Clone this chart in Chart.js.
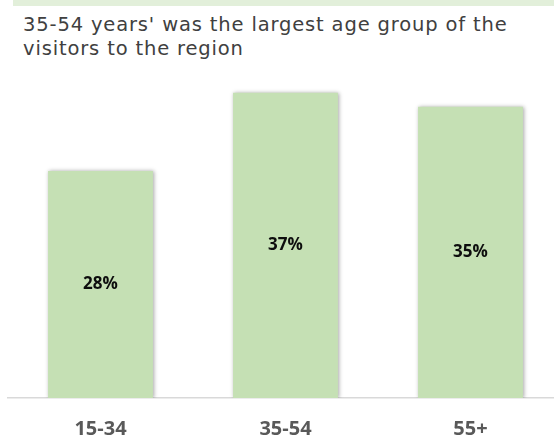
<!DOCTYPE html>
<html>
<head>
<meta charset="utf-8">
<script src="https://cdn.jsdelivr.net/npm/chart.js@4"></script>
<style>
  html, body { margin:0; padding:0; width:554px; height:438px; overflow:hidden; background:#fff; }
  #band { position:absolute; left:13px; top:0; width:541px; height:6px; background:#e2efda; }
  #title { position:absolute; left:23px; top:13px; width:531px; white-space:nowrap; font-family:"DejaVu Sans", sans-serif; font-size:19.5px; letter-spacing:0.85px; line-height:24px; color:#404040; }
  #wrap { position:absolute; left:0; top:0; width:580px; height:470px; }
</style>
</head>
<body>
<div id="band"></div>
<div id="title">35-54 years' was the largest age group of the<br>visitors to the region</div>
<div id="wrap"><canvas id="c" width="580" height="470"></canvas></div>
<script>
const categories = ["15-34", "35-54", "55+"];
const shares = [27.6, 37.1, 35.4];

const shadowPlugin = {
  id: 'barShadow',
  beforeDatasetsDraw(chart) {
    const ctx = chart.ctx;
    ctx.save();
    ctx.shadowColor = 'rgba(0,0,0,0.35)';
    ctx.shadowBlur = 4;
    ctx.shadowOffsetX = 1;
    ctx.shadowOffsetY = 0;
  },
  afterDatasetsDraw(chart) {
    chart.ctx.restore();
  }
};

const labelPlugin = {
  id: 'barLabels',
  afterDraw(chart) {
    const ctx = chart.ctx;
    const meta = chart.getDatasetMeta(0);
    ctx.save();
    ctx.font = 'bold 17px "Open Sans", sans-serif';
    ctx.fillStyle = '#0d0d0d';
    ctx.textAlign = 'center';
    ctx.textBaseline = 'middle';
    meta.data.forEach((el, i) => {
      const v = chart.data.datasets[0].data[i];
      ctx.fillText(Math.round(v) + '%', el.x, (el.y + el.base) / 2);
    });
    ctx.restore();
  }
};

new Chart(document.getElementById('c'), {
  type: 'bar',
  data: {
    labels: categories,
    datasets: [{
      data: shares,
      backgroundColor: '#c5e0b4',
      borderWidth: 0,
      barPercentage: 0.567,
      categoryPercentage: 1
    }]
  },
  options: {
    responsive: false,
    animation: false,
    devicePixelRatio: 1,
    layout: { padding: { left: 8, right: 17, top: 69, bottom: 10 } },
    plugins: { legend: { display: false }, tooltip: { enabled: false }, title: { display: false } },
    scales: {
      y: { display: false, min: 0, max: 40 },
      x: {
        grid: { display: false, drawTicks: false },
        border: { display: true, color: '#d9d9d9', width: 1.5 },
        ticks: { padding: 19, color: '#595959', font: { family: '"Open Sans", sans-serif', size: 20, weight: 'bold' } }
      }
    }
  },
  plugins: [shadowPlugin, labelPlugin]
});
</script>
</body>
</html>
